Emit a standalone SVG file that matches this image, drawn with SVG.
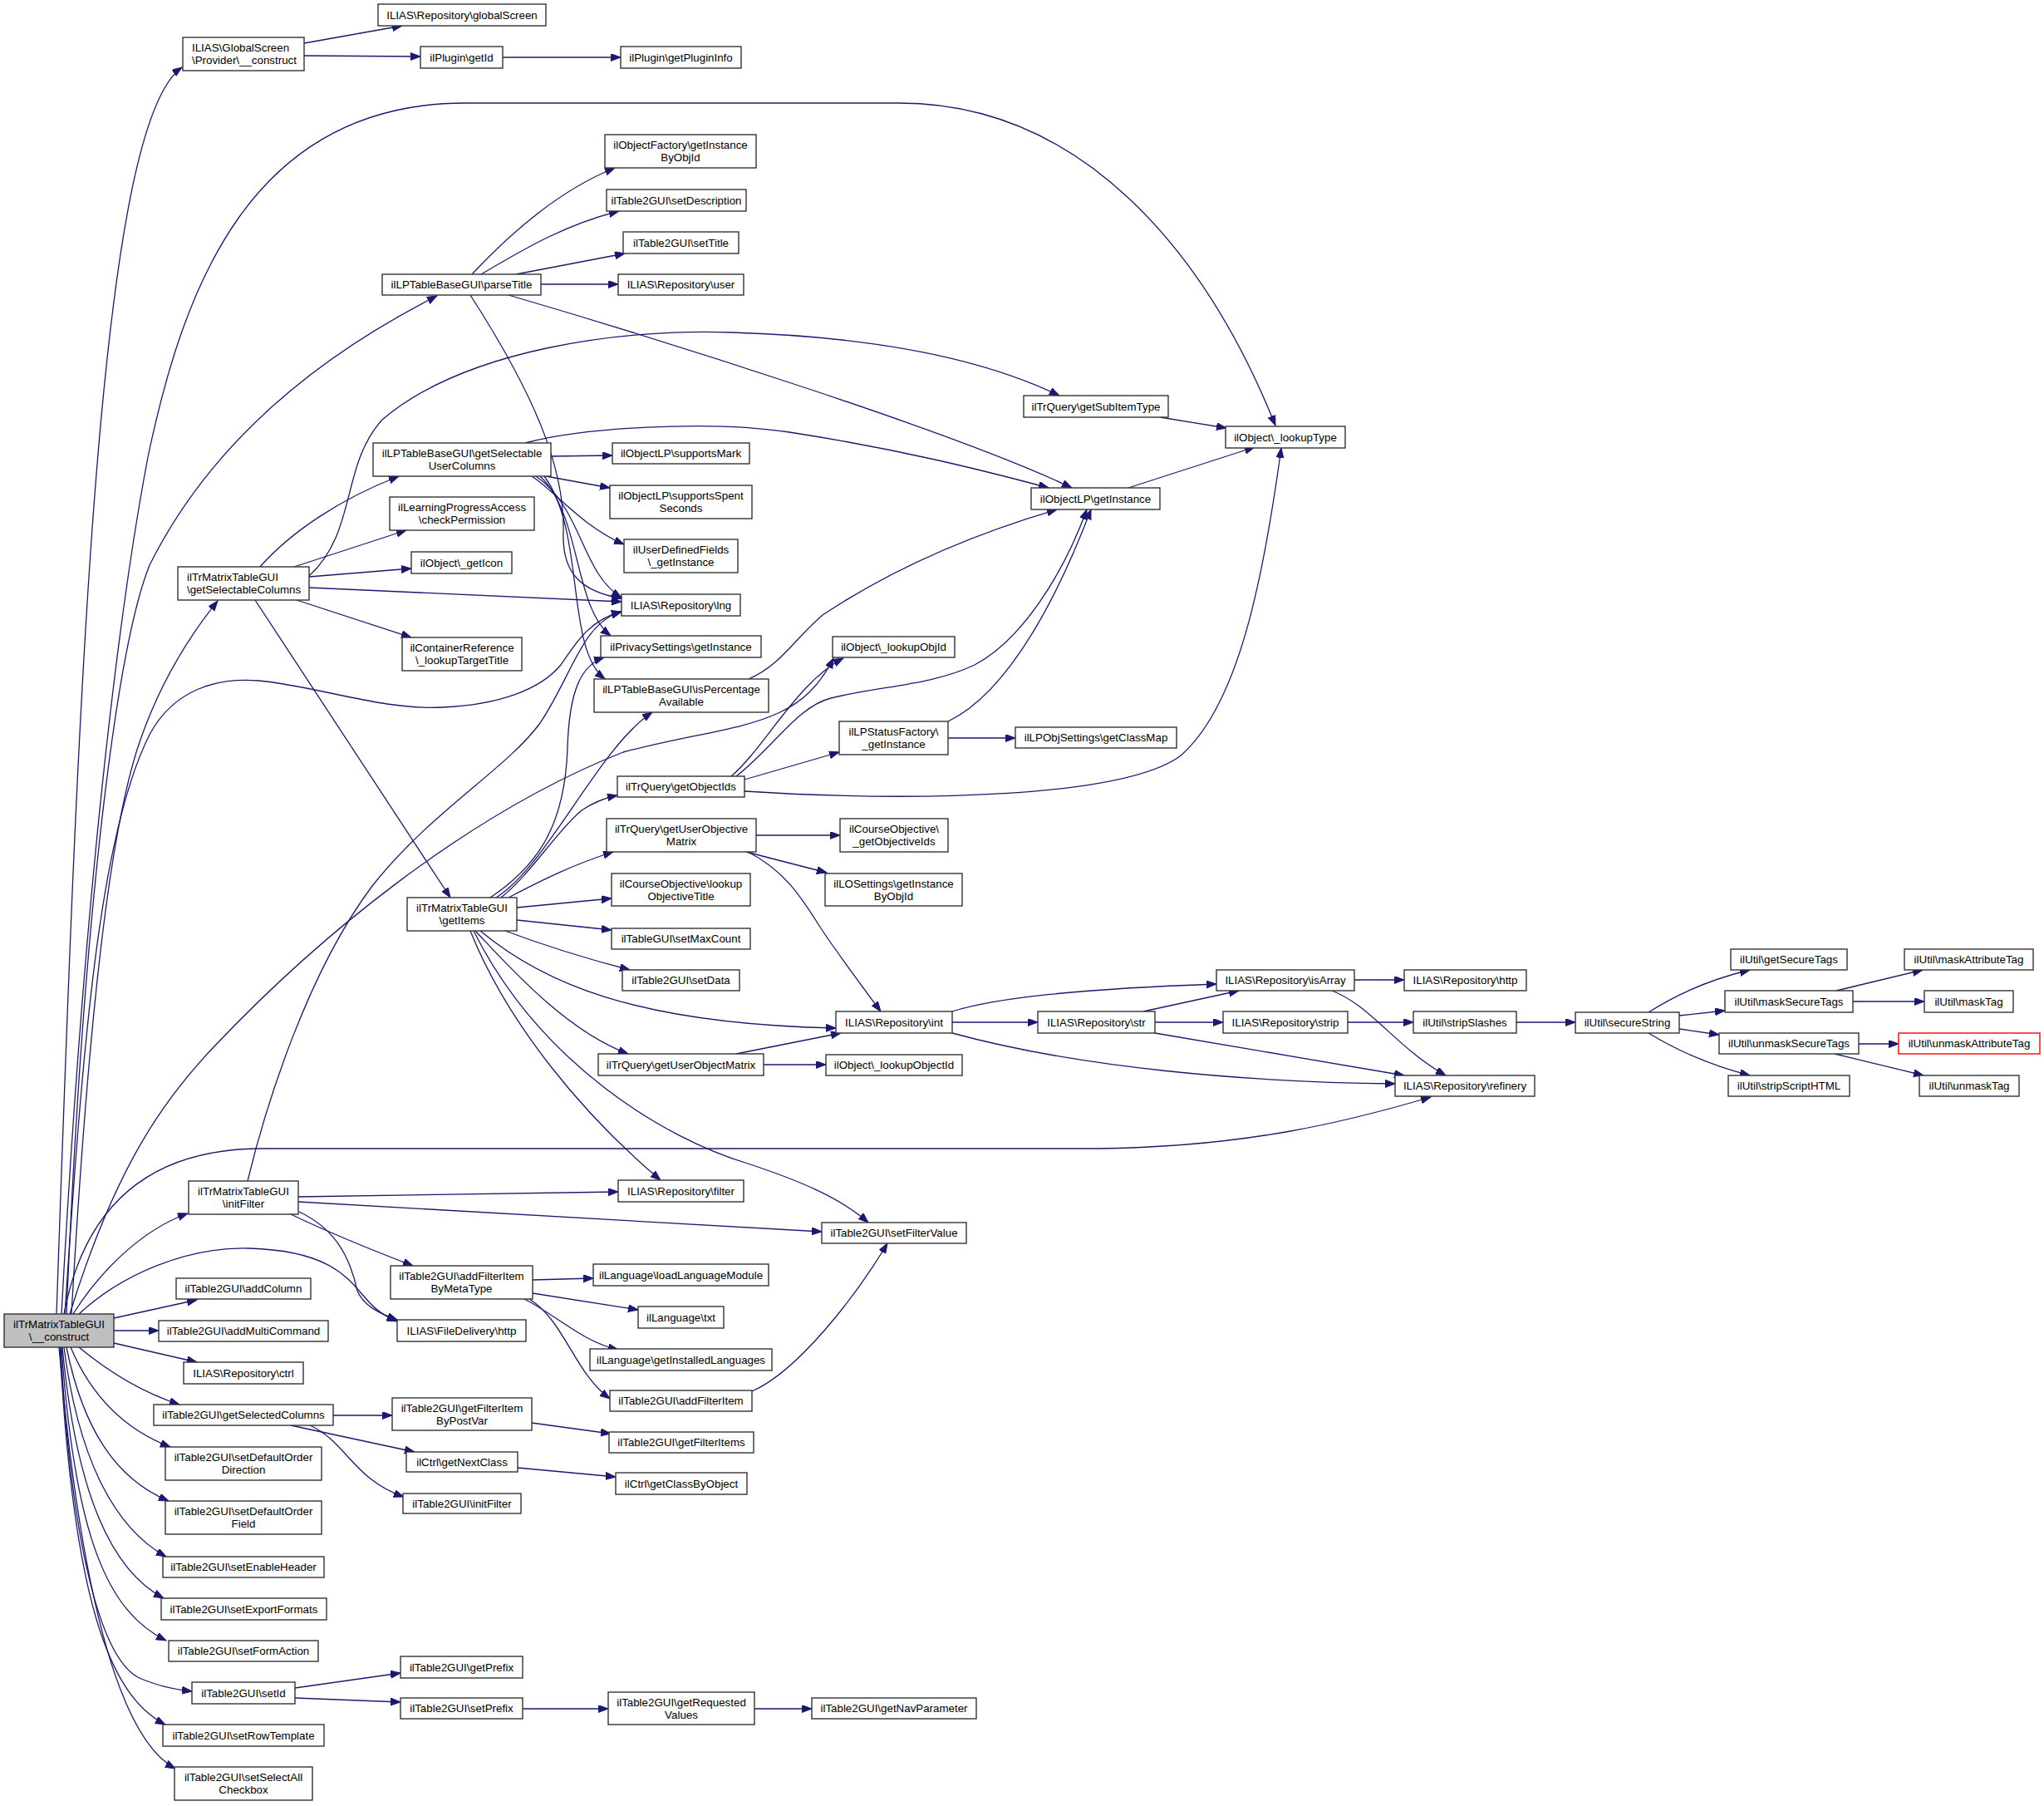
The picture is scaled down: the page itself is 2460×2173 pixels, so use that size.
<svg xmlns="http://www.w3.org/2000/svg" width="2460" height="2173" viewBox="0 0 2460 2173">
<style>
.node rect{fill:#ffffff;stroke:#333333;stroke-width:1.4}
.node.root rect{fill:#bfbfbf}
.node.red rect{stroke:#ff0000}
.node text{font-family:"Liberation Sans",Arial,Helvetica,sans-serif;font-size:13.33px;fill:#000000;text-anchor:middle}
.node text.l{text-anchor:start}
.edges path{fill:none;stroke:#191970;stroke-width:1.3;marker-end:url(#arr)}
</style>
<defs>
<marker id="arr" markerUnits="userSpaceOnUse" markerWidth="14" markerHeight="10" refX="12" refY="4.5" orient="auto">
<path d="M0,0 L12,4.5 L0,9 z" fill="#191970" stroke="#191970" stroke-width="1"/>
</marker>
</defs>
<rect x="0" y="0" width="2460" height="2173" fill="#ffffff"/>
<g id="edges" class="edges">
<path d="M68,1581 C 95,800 120,150 219,81"/>
<path d="M74,1581 C 100,1100 140,750 178,550 C 220,350 300,124 560,124 L1082,124 C 1300,124 1450,300 1535,512"/>
<path d="M80,1581 C 100,1100 140,780 180,680 C 260,520 400,420 526,356"/>
<path d="M86,1581 C 105,1250 130,1000 169,890 C 190,830 220,775 262,723"/>
<path d="M78,1581 C 100,1250 120,1000 181,882 C 210,830 260,815 311,819 C 380,825 460,855 533,851 C 600,848 650,830 675,800 C 695,770 712,745 748,736"/>
<path d="M84,1581 C 140,1400 200,1320 257,1260 C 380,1130 560,980 750,905 C 880,870 960,880 1003,792"/>
<path d="M77,1581 C 100,1460 170,1384 310,1382 L1320,1382 C 1500,1380 1620,1350 1722,1320"/>
<path d="M88,1581 C 120,1530 170,1480 226,1460"/>
<path d="M95,1581 C 150,1530 230,1500 300,1502 C 400,1505 420,1540 440,1562 C 452,1576 462,1583 478,1590"/>
<path d="M137,1586 L237,1564"/>
<path d="M137,1601 L191,1601"/>
<path d="M137,1616 L237,1639"/>
<path d="M95,1621 C 130,1650 170,1675 216,1690"/>
<path d="M85,1621 C 110,1680 150,1720 205,1741"/>
<path d="M80,1621 C 100,1720 140,1780 203,1806"/>
<path d="M77,1621 C 95,1760 140,1840 200,1873"/>
<path d="M75,1621 C 92,1800 135,1890 197,1923"/>
<path d="M74,1621 C 90,1850 130,1940 200,1974"/>
<path d="M73,1621 C 85,1850 120,2000 170,2020 C 190,2028 205,2032 231,2035"/>
<path d="M72,1621 C 88,1920 130,2040 199,2075"/>
<path d="M71,1621 C 95,1900 140,2090 211,2128"/>
<path d="M366,52 L484,31"/>
<path d="M366,67 L506,68"/>
<path d="M605,69 L747,69"/>
<path d="M568,330 C 610,285 670,230 740,202"/>
<path d="M579,330 C 630,300 680,270 745,254"/>
<path d="M621,330 L752,305"/>
<path d="M651,342 L744,342"/>
<path d="M612,355 C 800,410 1150,520 1290,587"/>
<path d="M566,355 C 640,470 680,560 678,640 C 676,690 700,712 748,720"/>
<path d="M663,549 L737,548"/>
<path d="M657,573 L734,587"/>
<path d="M640,573 C 668,591 700,633 751,655"/>
<path d="M645,573 C 700,610 700,690 748,719"/>
<path d="M650,573 C 700,620 690,730 735,765"/>
<path d="M655,573 C 705,640 680,780 728,817"/>
<path d="M632,533 C 700,515 850,505 950,520 C 1080,540 1180,565 1262,587"/>
<path d="M313,682 C 350,640 410,600 480,573"/>
<path d="M354,682 L489,638"/>
<path d="M372,694 L495,684"/>
<path d="M372,707 L748,724"/>
<path d="M357,722 L495,767"/>
<path d="M307,722 L542,1080"/>
<path d="M372,693 C 430,640 410,560 460,505 C 560,420 750,395 880,400 C 1050,405 1180,430 1275,476"/>
<path d="M1358,587 L1510,538"/>
<path d="M1396,502 L1476,515"/>
<path d="M901,817 C 940,800 955,770 990,740 C 1080,680 1180,640 1272,613"/>
<path d="M880,934 C 920,900 960,820 1015,792"/>
<path d="M896,938 L1010,905"/>
<path d="M886,934 C 930,900 960,850 1000,840 C 1060,825 1120,825 1173,800 C 1230,770 1280,690 1308,613"/>
<path d="M896,952 C 1100,965 1350,960 1420,910 C 1490,850 1520,700 1542,539"/>
<path d="M1141,868 C 1220,830 1280,700 1313,613"/>
<path d="M1141,888 L1222,888"/>
<path d="M910,1005 L1011,1005"/>
<path d="M898,1025 L995,1050"/>
<path d="M900,1025 C 950,1050 970,1090 990,1120 C 1010,1150 1040,1190 1060,1217"/>
<path d="M590,1080 C 650,1040 680,990 683,900 C 685,830 700,800 727,791"/>
<path d="M597,1080 C 660,1040 720,900 785,857"/>
<path d="M603,1080 C 640,1050 670,1000 700,975 C 715,965 728,960 743,957"/>
<path d="M612,1080 C 650,1060 690,1040 738,1025"/>
<path d="M622,1092 L736,1081"/>
<path d="M622,1107 L736,1119"/>
<path d="M608,1120 C 640,1132 700,1152 758,1167"/>
<path d="M578,1120 C 650,1180 760,1232 1006,1237"/>
<path d="M572,1120 C 610,1160 680,1240 756,1268"/>
<path d="M566,1120 C 610,1230 700,1340 795,1420"/>
<path d="M570,1120 C 650,1280 800,1370 900,1400 C 960,1420 1010,1440 1045,1471"/>
<path d="M886,1268 L1012,1243"/>
<path d="M919,1281 L994,1281"/>
<path d="M1146,1217 C 1200,1200 1300,1190 1464,1184"/>
<path d="M1146,1230 L1249,1230"/>
<path d="M1146,1243 C 1300,1285 1500,1302 1679,1304"/>
<path d="M1376,1217 L1491,1192"/>
<path d="M1390,1230 L1472,1230"/>
<path d="M1390,1243 L1690,1294"/>
<path d="M1630,1179 L1690,1179"/>
<path d="M1603,1192 C 1650,1210 1680,1260 1740,1294"/>
<path d="M1622,1230 L1701,1230"/>
<path d="M1825,1230 L1896,1230"/>
<path d="M1984,1218 C 2020,1195 2060,1178 2106,1167"/>
<path d="M2021,1222 L2076,1216"/>
<path d="M2021,1238 L2069,1245"/>
<path d="M1984,1243 C 2020,1265 2060,1282 2106,1294"/>
<path d="M2210,1192 L2314,1167"/>
<path d="M2230,1205 L2316,1205"/>
<path d="M2237,1256 L2285,1256"/>
<path d="M2208,1268 L2315,1294"/>
<path d="M298,1421 C 320,1330 370,1170 448,1066 C 520,975 610,925 650,870 C 690,810 700,750 748,736"/>
<path d="M359,1440 L744,1434"/>
<path d="M359,1446 L989,1482"/>
<path d="M350,1461 C 400,1485 450,1505 497,1523"/>
<path d="M360,1458 C 400,1477 420,1507 430,1553 C 437,1570 455,1580 478,1588"/>
<path d="M641,1540 L714,1538"/>
<path d="M641,1556 L768,1576"/>
<path d="M631,1563 C 669,1582 700,1614 744,1624"/>
<path d="M637,1563 C 680,1590 690,1650 734,1683"/>
<path d="M905,1674 C 960,1650 1030,1560 1068,1496"/>
<path d="M401,1703 L472,1703"/>
<path d="M350,1715 L499,1747"/>
<path d="M373,1715 C 417,1735 425,1780 486,1801"/>
<path d="M640,1712 L735,1725"/>
<path d="M623,1766 L741,1777"/>
<path d="M355,2031 L482,2013"/>
<path d="M355,2043 L482,2048"/>
<path d="M629,2056 L732,2056"/>
<path d="M908,2056 L977,2056"/>
</g>
<g id="n_main" class="node root"><rect x="5" y="1581" width="132" height="40"/><text x="71" y="1598">ilTrMatrixTableGUI</text><text x="71" y="1613">\__construct</text></g>
<g id="n_prov" class="node"><rect x="220" y="45" width="146" height="40"/><text class="l" x="231" y="62">ILIAS\GlobalScreen</text><text class="l" x="231" y="77">\Provider\__construct</text></g>
<g id="n_gs" class="node"><rect x="455" y="5" width="202" height="26"/><text x="556" y="22.6">ILIAS\Repository\globalScreen</text></g>
<g id="n_getId" class="node"><rect x="506" y="56" width="99" height="26"/><text x="555.5" y="73.6">ilPlugin\getId</text></g>
<g id="n_pinfo" class="node"><rect x="747" y="56" width="145" height="26"/><text x="819.5" y="73.6">ilPlugin\getPluginInfo</text></g>
<g id="n_objfac" class="node"><rect x="728" y="162" width="182" height="40"/><text x="819" y="179">ilObjectFactory\getInstance</text><text x="819" y="194">ByObjId</text></g>
<g id="n_setDesc" class="node"><rect x="730" y="228" width="168" height="26"/><text x="814" y="245.6">ilTable2GUI\setDescription</text></g>
<g id="n_setTitle" class="node"><rect x="750" y="279" width="139" height="26"/><text x="819.5" y="296.6">ilTable2GUI\setTitle</text></g>
<g id="n_user" class="node"><rect x="744" y="330" width="151" height="25"/><text x="819.5" y="347.1">ILIAS\Repository\user</text></g>
<g id="n_parse" class="node"><rect x="460" y="330" width="191" height="25"/><text x="555.5" y="347.1">ilLPTableBaseGUI\parseTitle</text></g>
<g id="n_subitem" class="node"><rect x="1232" y="476" width="174" height="26"/><text x="1319" y="493.6">ilTrQuery\getSubItemType</text></g>
<g id="n_lookupType" class="node"><rect x="1475" y="513" width="144" height="26"/><text x="1547" y="530.6">ilObject\_lookupType</text></g>
<g id="n_selUser" class="node"><rect x="449" y="533" width="214" height="40"/><text x="556" y="550">ilLPTableBaseGUI\getSelectable</text><text x="556" y="565">UserColumns</text></g>
<g id="n_supMark" class="node"><rect x="737" y="533" width="165" height="25"/><text x="819.5" y="550.1">ilObjectLP\supportsMark</text></g>
<g id="n_supSpent" class="node"><rect x="734" y="584" width="171" height="40"/><text x="819.5" y="601">ilObjectLP\supportsSpent</text><text x="819.5" y="616">Seconds</text></g>
<g id="n_olpInst" class="node"><rect x="1241" y="587" width="155" height="26"/><text x="1318.5" y="604.6">ilObjectLP\getInstance</text></g>
<g id="n_perm" class="node"><rect x="469" y="598" width="174" height="40"/><text x="556" y="615">ilLearningProgressAccess</text><text x="556" y="630">\checkPermission</text></g>
<g id="n_icon" class="node"><rect x="495" y="664" width="121" height="26"/><text x="555.5" y="681.6">ilObject\_getIcon</text></g>
<g id="n_udf" class="node"><rect x="751" y="649" width="137" height="40"/><text x="819.5" y="666">ilUserDefinedFields</text><text x="819.5" y="681">\_getInstance</text></g>
<g id="n_selCols" class="node"><rect x="214" y="682" width="158" height="40"/><text class="l" x="225" y="699">ilTrMatrixTableGUI</text><text class="l" x="225" y="714">\getSelectableColumns</text></g>
<g id="n_lng" class="node"><rect x="748" y="715" width="143" height="26"/><text x="819.5" y="732.6">ILIAS\Repository\lng</text></g>
<g id="n_ttitle" class="node"><rect x="484" y="767" width="144" height="40"/><text x="556" y="784">ilContainerReference</text><text x="556" y="799">\_lookupTargetTitle</text></g>
<g id="n_priv" class="node"><rect x="723" y="765" width="193" height="26"/><text x="819.5" y="782.6">ilPrivacySettings\getInstance</text></g>
<g id="n_lookupObjId" class="node"><rect x="1002" y="766" width="147" height="25"/><text x="1075.5" y="783.1">ilObject\_lookupObjId</text></g>
<g id="n_isPerc" class="node"><rect x="715" y="817" width="210" height="40"/><text x="820" y="834">ilLPTableBaseGUI\isPercentage</text><text x="820" y="849">Available</text></g>
<g id="n_lpsf" class="node"><rect x="1010" y="868" width="131" height="40"/><text x="1075.5" y="885">ilLPStatusFactory\</text><text x="1075.5" y="900">_getInstance</text></g>
<g id="n_classmap" class="node"><rect x="1222" y="875" width="194" height="25"/><text x="1319" y="892.1">ilLPObjSettings\getClassMap</text></g>
<g id="n_objIds" class="node"><rect x="743" y="934" width="153" height="25"/><text x="819.5" y="951.1">ilTrQuery\getObjectIds</text></g>
<g id="n_uom" class="node"><rect x="730" y="985" width="180" height="40"/><text x="820" y="1002">ilTrQuery\getUserObjective</text><text x="820" y="1017">Matrix</text></g>
<g id="n_coIds" class="node"><rect x="1011" y="985" width="130" height="40"/><text x="1076" y="1002">ilCourseObjective\</text><text x="1076" y="1017">_getObjectiveIds</text></g>
<g id="n_los" class="node"><rect x="993" y="1051" width="165" height="39"/><text x="1075.5" y="1067.6">ilLOSettings\getInstance</text><text x="1075.5" y="1082.6">ByObjId</text></g>
<g id="n_lot" class="node"><rect x="736" y="1051" width="167" height="39"/><text x="819.5" y="1067.6">ilCourseObjective\lookup</text><text x="819.5" y="1082.6">ObjectiveTitle</text></g>
<g id="n_getItems" class="node"><rect x="490" y="1080" width="132" height="40"/><text x="556" y="1097">ilTrMatrixTableGUI</text><text x="556" y="1112">\getItems</text></g>
<g id="n_maxCount" class="node"><rect x="736" y="1117" width="167" height="25"/><text x="819.5" y="1134.1">ilTableGUI\setMaxCount</text></g>
<g id="n_setData" class="node"><rect x="749" y="1167" width="141" height="25"/><text x="819.5" y="1184.1">ilTable2GUI\setData</text></g>
<g id="n_isArray" class="node"><rect x="1464" y="1167" width="166" height="25"/><text x="1547" y="1184.1">ILIAS\Repository\isArray</text></g>
<g id="n_http" class="node"><rect x="1690" y="1167" width="147" height="25"/><text x="1763.5" y="1184.1">ILIAS\Repository\http</text></g>
<g id="n_getSecTags" class="node"><rect x="2083" y="1142" width="140" height="25"/><text x="2153" y="1159.1">ilUtil\getSecureTags</text></g>
<g id="n_maskAttr" class="node"><rect x="2292" y="1142" width="155" height="25"/><text x="2369.5" y="1159.1">ilUtil\maskAttributeTag</text></g>
<g id="n_maskSec" class="node"><rect x="2076" y="1192" width="154" height="26"/><text x="2153" y="1209.6">ilUtil\maskSecureTags</text></g>
<g id="n_maskTag" class="node"><rect x="2316" y="1192" width="107" height="26"/><text x="2369.5" y="1209.6">ilUtil\maskTag</text></g>
<g id="n_int" class="node"><rect x="1006" y="1217" width="140" height="26"/><text x="1076" y="1234.6">ILIAS\Repository\int</text></g>
<g id="n_str" class="node"><rect x="1249" y="1217" width="141" height="26"/><text x="1319.5" y="1234.6">ILIAS\Repository\str</text></g>
<g id="n_strip" class="node"><rect x="1472" y="1217" width="150" height="26"/><text x="1547" y="1234.6">ILIAS\Repository\strip</text></g>
<g id="n_stripSl" class="node"><rect x="1701" y="1217" width="124" height="26"/><text x="1763" y="1234.6">ilUtil\stripSlashes</text></g>
<g id="n_secStr" class="node"><rect x="1896" y="1218" width="125" height="25"/><text x="1958.5" y="1235.1">ilUtil\secureString</text></g>
<g id="n_unmaskSec" class="node"><rect x="2069" y="1243" width="168" height="25"/><text x="2153" y="1260.1">ilUtil\unmaskSecureTags</text></g>
<g id="n_unmaskAttr" class="node red"><rect x="2285" y="1243" width="170" height="25"/><text x="2370" y="1260.1">ilUtil\unmaskAttributeTag</text></g>
<g id="n_uobjm" class="node"><rect x="720" y="1268" width="199" height="26"/><text x="819.5" y="1285.6">ilTrQuery\getUserObjectMatrix</text></g>
<g id="n_lookupObjectId" class="node"><rect x="994" y="1269" width="164" height="25"/><text x="1076" y="1286.1">ilObject\_lookupObjectId</text></g>
<g id="n_refinery" class="node"><rect x="1679" y="1294" width="168" height="25"/><text x="1763" y="1311.1">ILIAS\Repository\refinery</text></g>
<g id="n_stripScript" class="node"><rect x="2080" y="1294" width="146" height="25"/><text x="2153" y="1311.1">ilUtil\stripScriptHTML</text></g>
<g id="n_unmaskTag" class="node"><rect x="2310" y="1294" width="120" height="25"/><text x="2370" y="1311.1">ilUtil\unmaskTag</text></g>
<g id="n_filter" class="node"><rect x="744" y="1420" width="151" height="26"/><text x="819.5" y="1437.6">ILIAS\Repository\filter</text></g>
<g id="n_initFilter" class="node"><rect x="227" y="1421" width="132" height="40"/><text x="293" y="1438">ilTrMatrixTableGUI</text><text x="293" y="1453">\initFilter</text></g>
<g id="n_setFV" class="node"><rect x="989" y="1471" width="174" height="25"/><text x="1076" y="1488.1">ilTable2GUI\setFilterValue</text></g>
<g id="n_loadLM" class="node"><rect x="714" y="1521" width="211" height="26"/><text x="819.5" y="1538.6">ilLanguage\loadLanguageModule</text></g>
<g id="n_afibmt" class="node"><rect x="470" y="1523" width="171" height="40"/><text x="555.5" y="1540">ilTable2GUI\addFilterItem</text><text x="555.5" y="1555">ByMetaType</text></g>
<g id="n_addCol" class="node"><rect x="212" y="1538" width="162" height="25"/><text x="293" y="1555.1">ilTable2GUI\addColumn</text></g>
<g id="n_txt" class="node"><rect x="768" y="1572" width="103" height="26"/><text x="819.5" y="1589.6">ilLanguage\txt</text></g>
<g id="n_fdhttp" class="node"><rect x="478" y="1588" width="155" height="26"/><text x="555.5" y="1605.6">ILIAS\FileDelivery\http</text></g>
<g id="n_addMC" class="node"><rect x="191" y="1589" width="204" height="25"/><text x="293" y="1606.1">ilTable2GUI\addMultiCommand</text></g>
<g id="n_gil" class="node"><rect x="710" y="1623" width="219" height="26"/><text x="819.5" y="1640.6">ilLanguage\getInstalledLanguages</text></g>
<g id="n_ctrl" class="node"><rect x="221" y="1639" width="144" height="26"/><text x="293" y="1656.6">ILIAS\Repository\ctrl</text></g>
<g id="n_afi" class="node"><rect x="734" y="1673" width="171" height="25"/><text x="819.5" y="1690.1">ilTable2GUI\addFilterItem</text></g>
<g id="n_gfibpv" class="node"><rect x="472" y="1682" width="168" height="39"/><text x="556" y="1698.6">ilTable2GUI\getFilterItem</text><text x="556" y="1713.6">ByPostVar</text></g>
<g id="n_gsc" class="node"><rect x="185" y="1690" width="216" height="25"/><text x="293" y="1707.1">ilTable2GUI\getSelectedColumns</text></g>
<g id="n_gfi" class="node"><rect x="733" y="1723" width="174" height="25"/><text x="820" y="1740.1">ilTable2GUI\getFilterItems</text></g>
<g id="n_sdod" class="node"><rect x="199" y="1741" width="188" height="40"/><text x="293" y="1758">ilTable2GUI\setDefaultOrder</text><text x="293" y="1773">Direction</text></g>
<g id="n_gnc" class="node"><rect x="489" y="1747" width="134" height="24"/><text x="556" y="1763.6">ilCtrl\getNextClass</text></g>
<g id="n_gcbo" class="node"><rect x="741" y="1772" width="158" height="26"/><text x="820" y="1789.6">ilCtrl\getClassByObject</text></g>
<g id="n_t2init" class="node"><rect x="485" y="1797" width="142" height="24"/><text x="556" y="1813.6">ilTable2GUI\initFilter</text></g>
<g id="n_sdof" class="node"><rect x="199" y="1806" width="188" height="40"/><text x="293" y="1823">ilTable2GUI\setDefaultOrder</text><text x="293" y="1838">Field</text></g>
<g id="n_seh" class="node"><rect x="196" y="1873" width="194" height="25"/><text x="293" y="1890.1">ilTable2GUI\setEnableHeader</text></g>
<g id="n_sef" class="node"><rect x="194" y="1923" width="199" height="26"/><text x="293.5" y="1940.6">ilTable2GUI\setExportFormats</text></g>
<g id="n_sfa" class="node"><rect x="203" y="1974" width="180" height="25"/><text x="293" y="1991.1">ilTable2GUI\setFormAction</text></g>
<g id="n_gp" class="node"><rect x="482" y="1993" width="147" height="26"/><text x="555.5" y="2010.6">ilTable2GUI\getPrefix</text></g>
<g id="n_setId" class="node"><rect x="231" y="2024" width="124" height="26"/><text x="293" y="2041.6">ilTable2GUI\setId</text></g>
<g id="n_sp" class="node"><rect x="482" y="2043" width="147" height="25"/><text x="555.5" y="2060.1">ilTable2GUI\setPrefix</text></g>
<g id="n_grv" class="node"><rect x="732" y="2036" width="176" height="39"/><text x="820" y="2052.6">ilTable2GUI\getRequested</text><text x="820" y="2067.6">Values</text></g>
<g id="n_gnp" class="node"><rect x="977" y="2043" width="198" height="25"/><text x="1076" y="2060.1">ilTable2GUI\getNavParameter</text></g>
<g id="n_srt" class="node"><rect x="196" y="2075" width="194" height="26"/><text x="293" y="2092.6">ilTable2GUI\setRowTemplate</text></g>
<g id="n_ssac" class="node"><rect x="210" y="2126" width="166" height="40"/><text x="293" y="2143">ilTable2GUI\setSelectAll</text><text x="293" y="2158">Checkbox</text></g>
</svg>
